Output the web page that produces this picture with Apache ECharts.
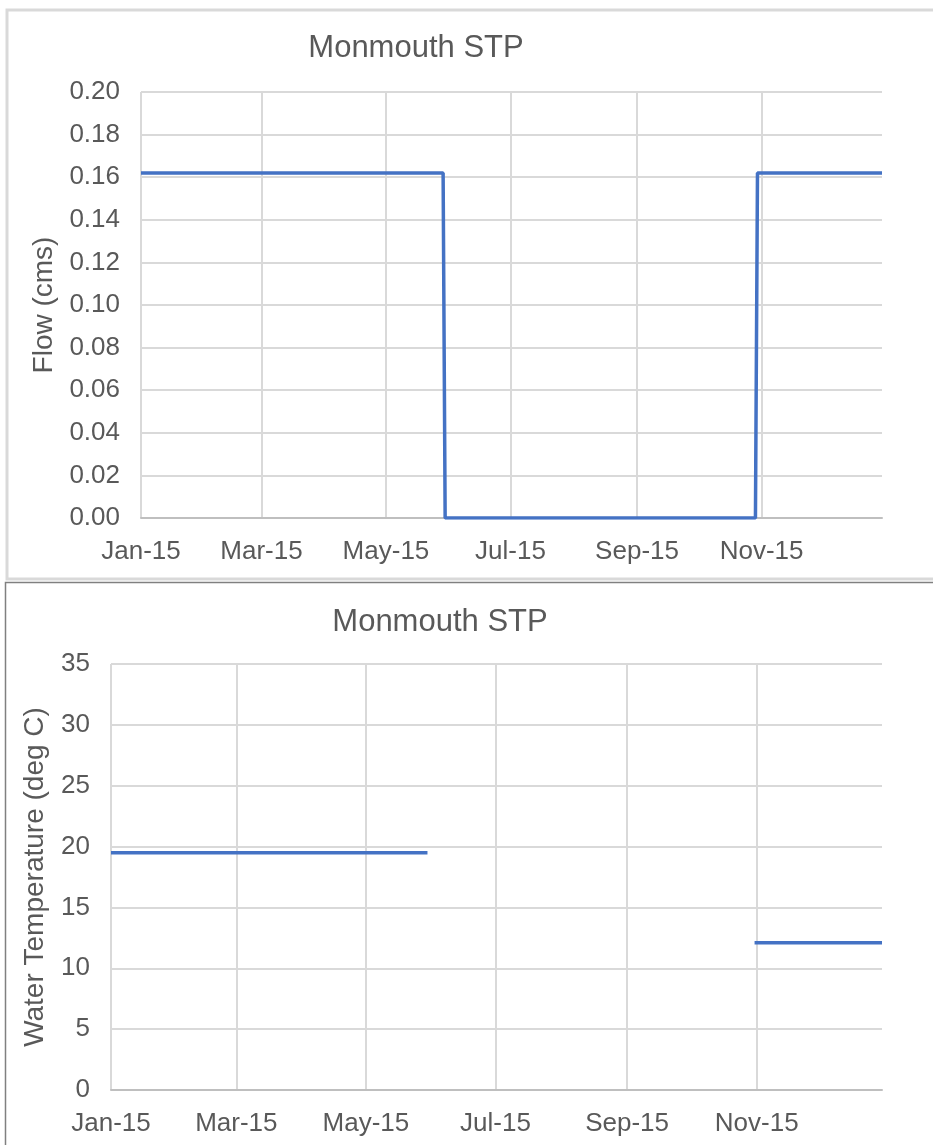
<!DOCTYPE html>
<html>
<head>
<meta charset="utf-8">
<title>Monmouth STP</title>
<script src="https://cdn.jsdelivr.net/npm/echarts@6/dist/echarts.min.js"></script>
<style>
  html, body { margin: 0; padding: 0; background: #ffffff; }
  #chart { width: 933px; height: 1145px; }
</style>
</head>
<body>
<div id="chart"></div>
<script>
// Monmouth STP discharge: flow (cms) and water temperature (deg C), 2015
const chartTitle = 'Monmouth STP';

// Flow series: breakpoints of the piecewise-constant record
const flowDates  = ['2015-01-01', '2015-05-29', '2015-05-30', '2015-10-29', '2015-10-30', '2015-12-30'];
const flowValues = [0.162, 0.162, 0, 0, 0.162, 0.162];

// Water temperature series ('-' marks the gap with no record)
const tempDates  = ['2015-01-01', '2015-05-30', '2015-06-01', '2015-10-31', '2015-12-30'];
const tempValues = [19.5, 19.5, '-', 12.1, 12.1];

// Axis settings
const xStart = '2015-01-01';
const xEnd   = '2015-12-30';
const xTickDates = ['2015-01-01', '2015-03-01', '2015-05-01', '2015-07-01', '2015-09-01', '2015-11-01'];
const monthNames = ['Jan', 'Feb', 'Mar', 'Apr', 'May', 'Jun', 'Jul', 'Aug', 'Sep', 'Oct', 'Nov', 'Dec'];
const flowAxis = { min: 0, max: 0.2, interval: 0.02, name: 'Flow (cms)' };
const tempAxis = { min: 0, max: 35, interval: 5, name: 'Water Temperature (deg C)' };

// dates are placed on a linear day axis (milliseconds)
function toTime(s) {
  const p = s.split('-').map(Number);
  return Date.UTC(p[0], p[1] - 1, p[2]);
}
function monthLabel(v) {
  const d = new Date(v);
  return monthNames[d.getUTCMonth()] + '-' + String(d.getUTCFullYear()).slice(2);
}
function pairs(dates, values) {
  return dates.map((d, i) => [toTime(d), values[i]]);
}

const FONT = '"Liberation Sans", Arial, sans-serif';
const TEXT = '#595959';
const GRID_LINE = '#d9d9d9';
const BLUE = '#4472c4';
const tickTimes = xTickDates.map(toTime);

function makeXAxis(gridIndex) {
  return {
    type: 'value',
    gridIndex: gridIndex,
    min: toTime(xStart),
    max: toTime(xEnd),
    axisLine: { show: true, lineStyle: { color: '#bfbfbf', width: 2 } },
    axisTick: { show: false, customValues: tickTimes },
    axisLabel: {
      customValues: tickTimes,
      formatter: monthLabel,
      color: TEXT, fontFamily: FONT, fontSize: 26, margin: 21,
      hideOverlap: false
    },
    splitLine: { show: true, lineStyle: { color: GRID_LINE, width: 2 } }
  };
}
function makeYAxis(gridIndex, cfg, digits, nameGap) {
  return {
    type: 'value',
    gridIndex: gridIndex,
    min: cfg.min, max: cfg.max, interval: cfg.interval,
    name: cfg.name,
    nameLocation: 'middle',
    nameGap: nameGap,
    nameTextStyle: { color: TEXT, fontFamily: FONT, fontSize: 28 },
    axisLine: { show: false },
    axisTick: { show: false },
    axisLabel: {
      color: TEXT, fontFamily: FONT, fontSize: 26, margin: 21,
      formatter: v => v.toFixed(digits)
    },
    splitLine: { show: true, lineStyle: { color: GRID_LINE, width: 2 } }
  };
}

const chart = echarts.init(document.getElementById('chart'), null, { renderer: 'canvas' });
chart.setOption({
  animation: false,
  backgroundColor: '#ffffff',
  title: [
    { text: chartTitle, left: 416, top: 33, textAlign: 'center', padding: 0,
      textStyle: { color: TEXT, fontFamily: FONT, fontSize: 31, fontWeight: 'normal' } },
    { text: chartTitle, left: 440, top: 607, textAlign: 'center', padding: 0,
      textStyle: { color: TEXT, fontFamily: FONT, fontSize: 31, fontWeight: 'normal' } }
  ],
  graphic: [
    // outer frame of the flow panel
    { type: 'rect', shape: { x: 7, y: 10, width: 960, height: 569 },
      style: { fill: null, stroke: '#d9d9d9', lineWidth: 3 }, z: 10 },
    // outer frame of the temperature panel
    { type: 'polyline', shape: { points: [[5.5, 1150], [5.5, 582.5], [940, 582.5]] },
      style: { fill: null, stroke: '#808080', lineWidth: 1.5 }, z: 10 }
  ],
  grid: [
    { left: 141, top: 92, width: 741, height: 426 },
    { left: 111, top: 664, width: 771, height: 426 }
  ],
  xAxis: [makeXAxis(0), makeXAxis(1)],
  yAxis: [makeYAxis(0, flowAxis, 2, 83), makeYAxis(1, tempAxis, 0, 62)],
  series: [
    { name: 'Flow', type: 'line', xAxisIndex: 0, yAxisIndex: 0,
      data: pairs(flowDates, flowValues), showSymbol: false,
      lineStyle: { color: BLUE, width: 3.5 } },
    { name: 'Water Temperature', type: 'line', xAxisIndex: 1, yAxisIndex: 1,
      data: pairs(tempDates, tempValues), showSymbol: false, connectNulls: false,
      lineStyle: { color: BLUE, width: 3.5 } }
  ]
});
</script>
</body>
</html>
